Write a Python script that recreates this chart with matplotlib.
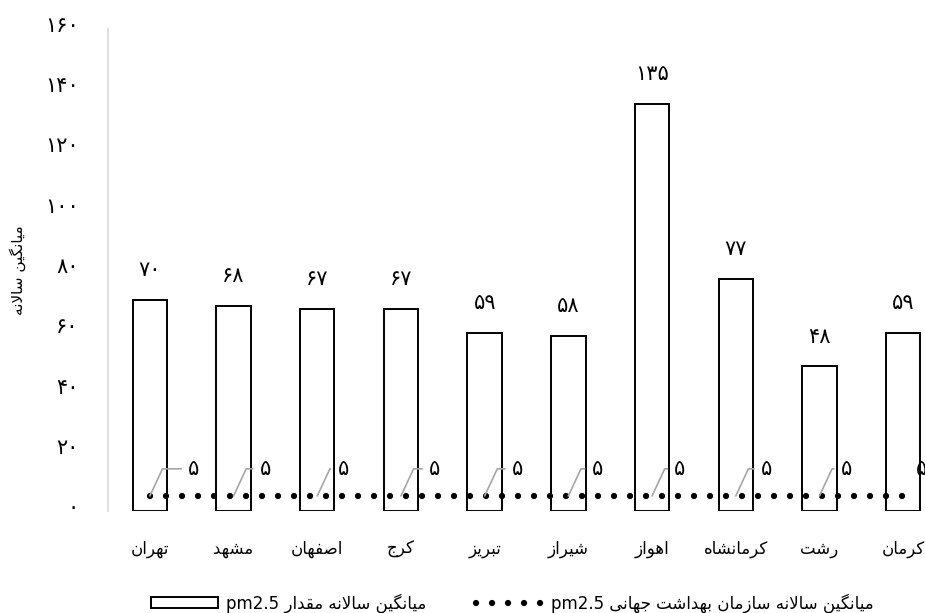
"""Annual mean PM2.5 for ten Iranian cities against the WHO guideline."""
import numpy as np
from matplotlib import pyplot as plt
from matplotlib import transforms as mtransforms

cities = ['تهران', 'مشهد', 'اصفهان', 'کرج', 'تبریز', 'شیراز', 'اهواز',
          'کرمانشاه', 'رشت', 'کرمان']
pm25 = [70, 68, 67, 67, 59, 58, 135, 77, 48, 59]
who_limit = [5, 5, 5, 5, 5, 5, 5, 5, 5, 5]
y_ticks = [0, 20, 40, 60, 80, 100, 120, 140, 160]

bar_label = 'میانگین سالانه مقدار pm2.5'
who_label = 'میانگین سالانه سازمان بهداشت جهانی pm2.5'
y_title = 'میانگین سالانه'

# horizontal offset (px) of each "5" label from its point
who_label_dx = [44, 32, 26, 34, 33, 29, 28, 31, 27, 18]

# matplotlib has no Arabic shaping, so map letters to presentation forms
# (isolated, final, initial, medial) and lay words out right to left.
FORMS = {
    'ا': (0xFE8D, 0xFE8E), 'د': (0xFEA9, 0xFEAA), 'ر': (0xFEAD, 0xFEAE),
    'ز': (0xFEAF, 0xFEB0), 'و': (0xFEED, 0xFEEE), 'LA': (0xFEFB, 0xFEFC),
    'ب': (0xFE8F, 0xFE90, 0xFE91, 0xFE92),
    'ت': (0xFE95, 0xFE96, 0xFE97, 0xFE98),
    'ج': (0xFE9D, 0xFE9E, 0xFE9F, 0xFEA0),
    'س': (0xFEB1, 0xFEB2, 0xFEB3, 0xFEB4),
    'ش': (0xFEB5, 0xFEB6, 0xFEB7, 0xFEB8),
    'ص': (0xFEB9, 0xFEBA, 0xFEBB, 0xFEBC),
    'ف': (0xFED1, 0xFED2, 0xFED3, 0xFED4),
    'ق': (0xFED5, 0xFED6, 0xFED7, 0xFED8),
    'ل': (0xFEDD, 0xFEDE, 0xFEDF, 0xFEE0),
    'م': (0xFEE1, 0xFEE2, 0xFEE3, 0xFEE4),
    'ن': (0xFEE5, 0xFEE6, 0xFEE7, 0xFEE8),
    'ه': (0xFEE9, 0xFEEA, 0xFEEB, 0xFEEC),
    'ک': (0xFB8E, 0xFB8F, 0xFB90, 0xFB91),
    'گ': (0xFB92, 0xFB93, 0xFB94, 0xFB95),
    'ی': (0xFBFC, 0xFBFD, 0xFBFE, 0xFBFF),
}


def shape_word(word):
    chars = []
    i = 0
    while i < len(word):
        if word[i] == 'ل' and word[i + 1:i + 2] == 'ا':
            chars.append('LA')
            i += 2
        else:
            chars.append(word[i])
            i += 1

    def dual(c):
        return c in FORMS and len(FORMS[c]) == 4

    out = []
    for i, c in enumerate(chars):
        if c not in FORMS:
            out.append(c)
            continue
        prev = i > 0 and dual(chars[i - 1])
        nxt = dual(c) and i + 1 < len(chars) and chars[i + 1] in FORMS
        f = FORMS[c]
        if prev and nxt:
            g = f[3]
        elif prev:
            g = f[1]
        elif nxt:
            g = f[2]
        else:
            g = f[0]
        out.append(chr(g))
    return ''.join(reversed(out))


def rtl(text):
    tokens = text.split()
    vis = [shape_word(t) if any('\u0600' <= ch <= '\u06ff' for ch in t) else t
           for t in tokens]
    return ' '.join(reversed(vis))


def fa_num(n):
    return str(n).translate(str.maketrans('0123456789', '۰۱۲۳۴۵۶۷۸۹'))


plt.rcParams['font.family'] = ['DejaVu Sans']

fig = plt.figure(figsize=(9.25, 6.13), dpi=100)
ax = fig.add_axes([108 / 925, 102 / 613, 837 / 925, 482 / 613])

x = np.arange(len(cities))
bars = ax.bar(x, pm25, width=0.41, color='white', edgecolor='black',
              linewidth=1.4, zorder=2, label=rtl(bar_label))
line, = ax.plot(x, who_limit, color='black', lw=4.5,
                linestyle=(0, (0.01, 2.55)), dash_capstyle='round', zorder=3,
                label=rtl(who_label))

for i, v in enumerate(pm25):
    ax.annotate(fa_num(v), (x[i], v), xytext=(0, 21.5),
                textcoords='offset points', ha='center', va='center',
                fontsize=15)

for i, v in enumerate(who_limit):
    dx = who_label_dx[i] * 0.72
    props = None
    if who_label_dx[i] > 20:
        props = dict(arrowstyle='-', color='#a6a6a6', lw=1.2,
                     shrinkA=3, shrinkB=0, relpos=(0, 0.5),
                     connectionstyle='angle,angleA=0,angleB=65,rad=0')
    ax.annotate(fa_num(v), (x[i], v), xytext=(dx, 19.5),
                textcoords='offset points', ha='center', va='center',
                fontsize=15, arrowprops=props, zorder=4)

ax.set_xlim(-0.5, len(cities) - 0.5)
ax.set_ylim(0, 160)
ax.set_xticks(x)
ax.set_xticklabels([rtl(c) for c in cities], fontsize=12)
ax.set_yticks(y_ticks)
ax.set_yticklabels([fa_num(t) for t in y_ticks], fontsize=15)
ax.tick_params(axis='x', length=0, pad=21)
ax.tick_params(axis='y', length=0, pad=21)

# tick labels sit a little above their tick position in the original
lift = mtransforms.ScaledTranslation(0, 5 / 100, fig.dpi_scale_trans)
for lbl in ax.get_yticklabels():
    lbl.set_transform(lbl.get_transform() + lift)

for side in ['top', 'right', 'bottom']:
    ax.spines[side].set_visible(False)
ax.spines['left'].set_color('#d9d9d9')
ax.spines['left'].set_linewidth(1.2)

ax.set_ylabel(rtl(y_title), fontsize=11)
ax.yaxis.set_label_coords(-0.098, 0.5)

fig.legend(handles=[bars, line], loc='center left',
           bbox_to_anchor=(136 / 925, 1 - 603 / 613), ncol=2, frameon=False,
           fontsize=12, handlelength=4.0, handleheight=0.6,
           columnspacing=3.0, handletextpad=0.5)

fig.savefig('out.png', dpi=100)
